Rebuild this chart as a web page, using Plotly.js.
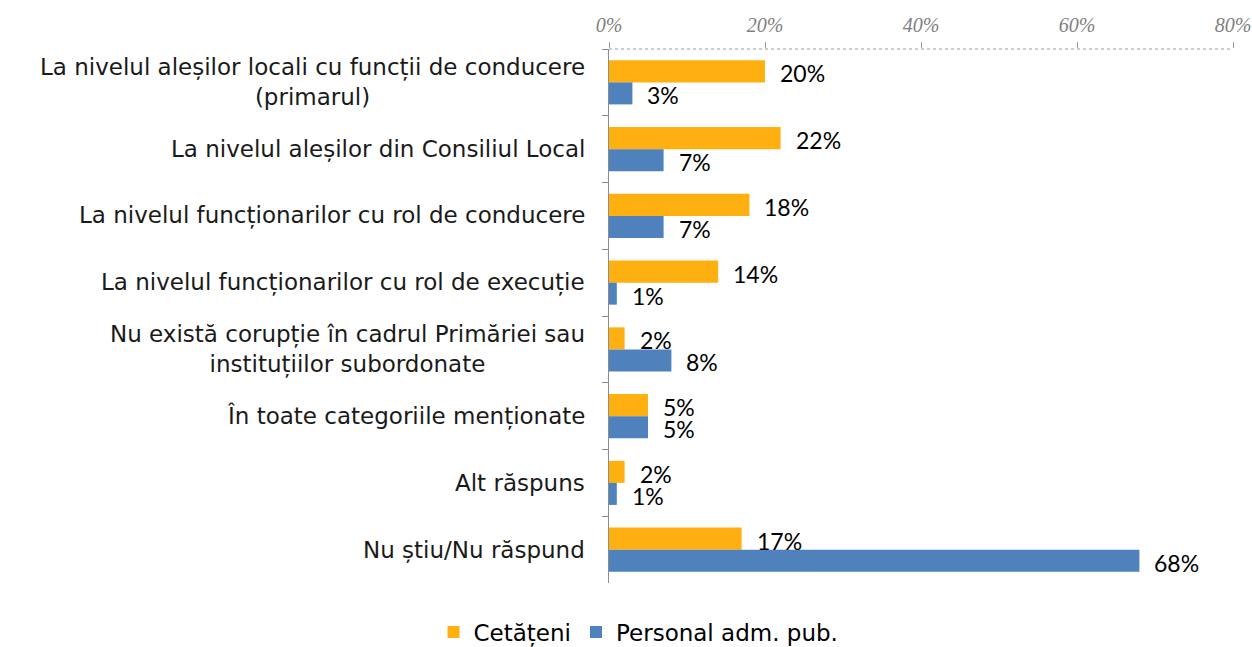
<!DOCTYPE html>
<html>
<head>
<meta charset="utf-8">
<script src="https://cdn.plot.ly/plotly-3.0.1.min.js"></script>
<style>
  html, body { margin: 0; padding: 0; background: #fff; }
  #plot { width: 1252px; height: 647px; }
</style>
</head>
<body>
<div id="plot"></div>
<script>
// Categories, top to bottom
const categories = [
    'La nivelul aleșilor locali cu funcții de conducere<br>(primarul)',
    'La nivelul aleșilor din Consiliul Local',
    'La nivelul funcționarilor cu rol de conducere',
    'La nivelul funcționarilor cu rol de execuție',
    'Nu există corupție în cadrul Primăriei sau<br>instituțiilor subordonate',
    'În toate categoriile menționate',
    'Alt răspuns',
    'Nu știu/Nu răspund'
];

const cetateni = [20, 22, 18, 14, 2, 5, 2, 17];
const personal = [3, 7, 7, 1, 8, 5, 1, 68];

const seriesNames = ['Cetățeni', 'Personal adm. pub.'];
const seriesColors = ['#FFB011', '#4F81BD'];
const xTicks = [0, 20, 40, 60, 80];

const labelFont = '"DejaVu Sans", sans-serif';

const traces = [cetateni, personal].map((vals, i) => ({
    type: 'bar',
    orientation: 'h',
    name: seriesNames[i],
    x: vals,
    y: categories,
    marker: { color: seriesColors[i] },
    hoverinfo: 'x+name'
}));

// Value labels next to each bar
const annotations = [];
[cetateni, personal].forEach((vals, i) => {
    vals.forEach((v, j) => {
        annotations.push({
            x: v, y: categories[j],
            xref: 'x', yref: 'y',
            text: v + '%',
            showarrow: false,
            xanchor: 'left',
            xshift: 14,
            yshift: i === 0 ? 9 : -13,
            borderpad: 0,
            font: { family: 'Lato, sans-serif', size: 23, color: '#000' }
        });
    });
});

// Category labels drawn as annotations so wrapped lines are centred
categories.forEach(c => {
    annotations.push({
        x: 0, y: c,
        xref: 'paper', yref: 'y',
        text: c,
        showarrow: false,
        xanchor: 'right',
        xshift: -22,
        align: 'center',
        font: { family: labelFont, size: 23, color: '#1a1a1a' }
    });
});

const layout = {
    width: 1252,
    height: 647,
    margin: { l: 609, r: 19, t: 49, b: 64 },
    paper_bgcolor: '#fff',
    plot_bgcolor: '#fff',
    barmode: 'group',
    bargap: 0.34,
    bargroupgap: 0,
    xaxis: {
        side: 'top',
        range: [0, 80],
        tickvals: xTicks,
        ticktext: xTicks.map(t => t + '%'),
        showgrid: false,
        zeroline: false,
        showline: false,
        ticks: 'outside',
        ticklen: 6,
        tickcolor: '#9a9a9a',
        ticklabelstandoff: 2,
        tickfont: { family: '"Liberation Serif", serif', size: 20, color: '#7f7f7f', style: 'italic' },
        fixedrange: true
    },
    yaxis: {
        type: 'category',
        autorange: 'reversed',
        showticklabels: false,
        showgrid: false,
        zeroline: false,
        showline: true,
        linecolor: '#8c8c8c',
        linewidth: 1.5,
        ticks: 'outside',
        tickson: 'boundaries',
        ticklen: 6,
        tickcolor: '#8c8c8c',
        fixedrange: true
    },
    shapes: [{
        type: 'line',
        xref: 'paper', yref: 'paper',
        x0: 0, x1: 1, y0: 1, y1: 1,
        line: { color: '#9a9a9a', width: 1, dash: 'dot' }
    }],
    annotations: annotations,
    showlegend: true,
    legend: {
        orientation: 'h',
        xref: 'container', yref: 'container',
        x: 0.51, y: 0.023,
        xanchor: 'center', yanchor: 'middle',
        font: { family: labelFont, size: 23, color: '#000' },
        itemwidth: 30,
        traceorder: 'normal'
    }
};

Plotly.newPlot('plot', traces, layout, { displayModeBar: false, staticPlot: true });
</script>
</body>
</html>
